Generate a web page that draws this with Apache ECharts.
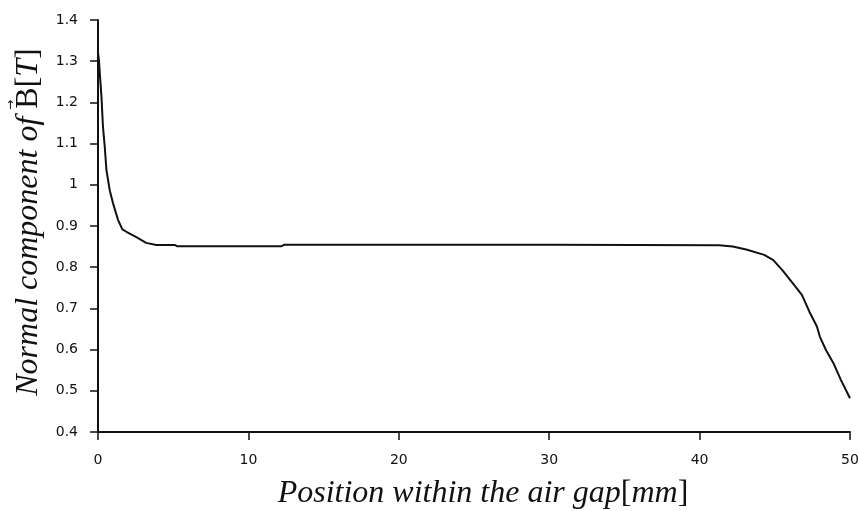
<!DOCTYPE html>
<html>
<head>
<meta charset="utf-8">
<script src="https://cdn.jsdelivr.net/npm/echarts@6/dist/echarts.min.js"></script>
<style>
html,body{margin:0;padding:0;background:#fff;}
#c{width:859px;height:511px;}
</style>
</head>
<body>
<div id="c"></div>
<script>
// Position within the air gap [mm]
var positions = [0, 0.07, 0.12, 0.23, 0.33, 0.45, 0.56, 0.78, 1.0, 1.33, 1.62, 1.89, 2.55, 3.2, 3.88, 5.1, 5.25, 8.0, 12.2, 12.4, 20, 30, 41.3, 42.2, 43.1, 44.3, 44.9, 45.5, 46.2, 46.8, 47.3, 47.8, 48.0, 48.4, 48.9, 49.4, 50];
// Normal component of B [T]
var bNormal = [1.32, 1.30, 1.27, 1.214, 1.141, 1.092, 1.036, 0.987, 0.955, 0.915, 0.892, 0.886, 0.873, 0.859, 0.854, 0.854, 0.851, 0.851, 0.851, 0.8545, 0.8545, 0.8545, 0.853, 0.850, 0.843, 0.830, 0.817, 0.793, 0.761, 0.733, 0.692, 0.656, 0.631, 0.599, 0.567, 0.526, 0.482];
var xTicks = [0, 10, 20, 30, 40, 50];
var yTicks = ['0.4','0.5','0.6','0.7','0.8','0.9','1','1.1','1.2','1.3','1.4'];

var points = positions.map(function (x, i) { return [x, bNormal[i]]; });

var chart = echarts.init(document.getElementById('c'), null, {renderer: 'canvas'});
var tickFont = {fontFamily: 'DejaVu Sans', fontSize: 14, color: '#111'};
var titleRich = {
  i: {fontFamily: 'Liberation Serif', fontStyle: 'italic', fontSize: 32, lineHeight: 48, color: '#111'},
  n: {fontFamily: 'Liberation Serif', fontStyle: 'normal', fontSize: 32, lineHeight: 48, color: '#111'},
  a: {fontFamily: 'DejaVu Sans', fontSize: 12, lineHeight: 13, width: 0, verticalAlign: 'top', color: '#111'}
};
chart.setOption({
  animation: false,
  backgroundColor: '#fff',
  grid: {left: 98, right: 9, top: 20, bottom: 79, containLabel: false, outerBoundsMode: 'none'},
  xAxis: {
    type: 'value', min: 0, max: 50, interval: 10,
    name: '{i|Position within the air gap}{n|[}{i|mm}{n|]}',
    nameLocation: 'middle', nameGap: 38,
    nameTextStyle: {rich: titleRich, padding: [0, 0, 0, 18]},
    axisLine: {lineStyle: {color: '#111', width: 2}},
    axisTick: {show: true, inside: false, length: 8, lineStyle: {color: '#111', width: 1.5}},
    axisLabel: Object.assign({margin: 21, formatter: function (v) { return xTicks.indexOf(v) >= 0 ? String(v) : ''; }}, tickFont),
    splitLine: {show: false}
  },
  yAxis: {
    type: 'value', min: 0.4, max: 1.4, interval: 0.1,
    name: '{i|Normal component of }{a|  \u2192}{n|B[}{i|T}{n|]}',
    nameLocation: 'middle', nameGap: 42, nameRotate: 90,
    nameTextStyle: {rich: titleRich, padding: [0, 0, 0, 8]},
    axisLine: {show: true, lineStyle: {color: '#111', width: 2}},
    axisTick: {show: true, inside: false, length: 8, lineStyle: {color: '#111', width: 1.5}},
    axisLabel: Object.assign({margin: 20, formatter: function (v) { return yTicks[Math.round((v - 0.4) * 10)]; }}, tickFont),
    splitLine: {show: false}
  },
  series: [{
    type: 'line', data: points, showSymbol: false, smooth: false,
    lineStyle: {color: '#111', width: 2}
  }]
});
</script>
</body>
</html>
